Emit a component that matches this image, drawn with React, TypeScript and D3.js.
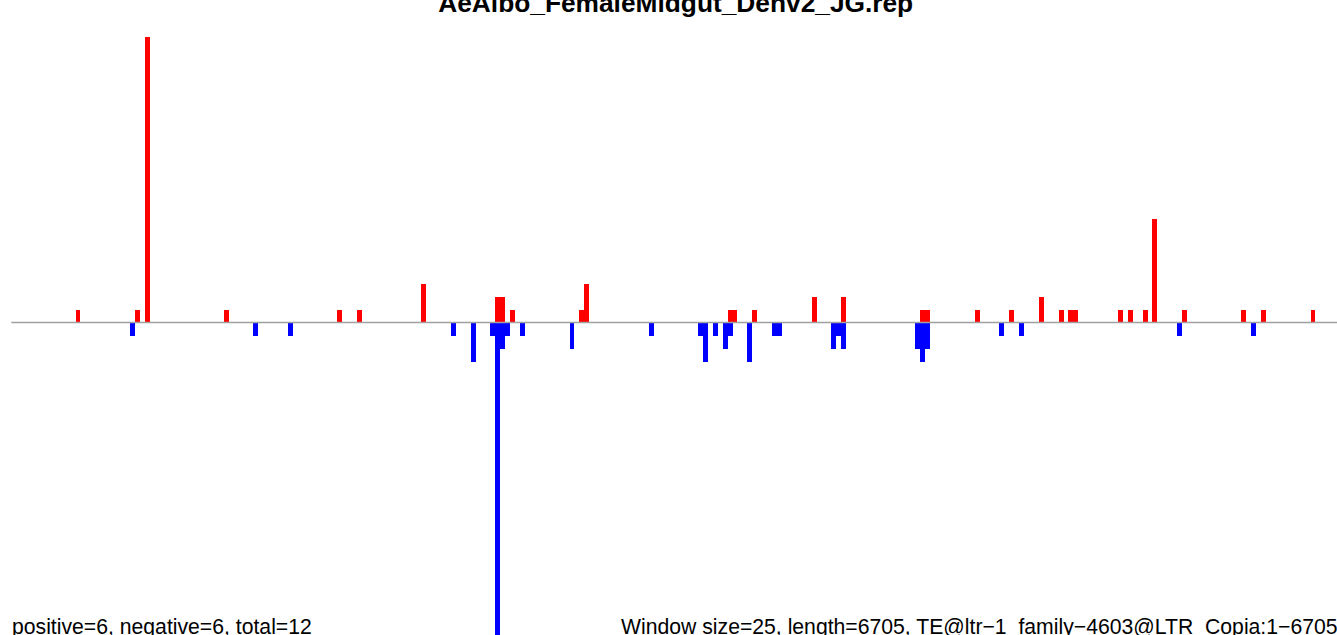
import React, { useEffect, useRef } from 'react'
import * as d3 from 'd3'

// window index (25 bp windows) and read counts
const posWindows = [13, 25, 27, 43, 66, 70, 83, 98, 99, 101, 115, 116, 145, 146, 150, 162, 168, 184, 185, 195, 202, 208, 212, 214, 215, 224, 226, 229, 231, 237, 249, 253, 263]
const posValues = [1, 1, 22, 1, 1, 1, 3, 2, 2, 1, 1, 3, 1, 1, 1, 2, 2, 1, 1, 1, 1, 2, 1, 1, 1, 1, 1, 1, 8, 1, 1, 1, 1]

const negWindows = [24, 49, 56, 89, 93, 97, 98, 99, 100, 103, 113, 129, 139, 140, 142, 144, 145, 149, 154, 155, 166, 167, 168, 183, 184, 185, 200, 204, 236, 251]
const negValues = [-1, -1, -1, -1, -3, -1, -28, -2, -1, -1, -2, -1, -1, -3, -1, -2, -1, -3, -1, -1, -2, -1, -2, -2, -3, -2, -1, -1, -1, -1]

const title = 'AeAlbo_FemaleMidgut_Denv2_JG.rep'
const leftNote = 'positive=6, negative=6, total=12'
const rightNote = 'Window size=25, length=6705, TE@ltr\u22121_family\u22124603@LTR_Copia:1\u22126705'
const nWindows = 269

const W = 1337
const H = 635

const App: React.FC = () => {
  const svgRef = useRef<SVGSVGElement>(null)

  useEffect(() => {
    if (!svgRef.current) return
    const svg = d3.select(svgRef.current)
    svg.selectAll('*').remove()

    const x = d3.scaleLinear().domain([0, nWindows]).range([11.3, 11.3 + nWindows * 4.94])
    const y = d3.scaleLinear().domain([-24, 22]).range([634.5, 36.5])
    const bw = x(1) - x(0)

    const pos = posWindows.map((w, i) => ({ w, v: posValues[i] }))
    const neg = negWindows.map((w, i) => ({ w, v: negValues[i] }))

    svg
      .append('g')
      .selectAll('rect')
      .data(pos)
      .join('rect')
      .attr('x', (d) => x(d.w))
      .attr('width', bw)
      .attr('y', (d) => y(d.v))
      .attr('height', (d) => y(0) - y(d.v))
      .attr('fill', '#ff0000')
      .attr('shape-rendering', 'crispEdges')

    svg
      .append('g')
      .selectAll('rect')
      .data(neg)
      .join('rect')
      .attr('x', (d) => x(d.w))
      .attr('width', bw)
      .attr('y', y(0))
      .attr('height', (d) => y(d.v) - y(0))
      .attr('fill', '#0000ff')
      .attr('shape-rendering', 'crispEdges')

    // zero line
    svg
      .append('line')
      .attr('x1', x(0))
      .attr('x2', x(nWindows))
      .attr('y1', y(0))
      .attr('y2', y(0))
      .attr('stroke', '#a0a0a0')
      .attr('stroke-width', 1.6)

    svg
      .append('text')
      .attr('x', (x(0) + x(nWindows)) / 2)
      .attr('y', 12)
      .attr('text-anchor', 'middle')
      .attr('font-family', '"Liberation Sans", Arial, sans-serif')
      .attr('font-weight', 'bold')
      .attr('font-size', 26.3)
      .text(title)

    svg
      .append('text')
      .attr('x', 12)
      .attr('y', 633.5)
      .attr('font-family', '"Liberation Sans", Arial, sans-serif')
      .attr('font-size', 21.2)
      .text(leftNote)

    svg
      .append('text')
      .attr('x', 621)
      .attr('y', 633.5)
      .attr('font-family', '"Liberation Sans", Arial, sans-serif')
      .attr('font-size', 21.2)
      .text(rightNote)
  }, [])

  return (
    <div style={{ position: 'absolute', left: 0, top: 0, width: W, height: H, overflow: 'hidden', background: '#fff' }}>
      <svg ref={svgRef} width={W} height={H} style={{ display: 'block' }}></svg>
    </div>
  )
}

export default App
